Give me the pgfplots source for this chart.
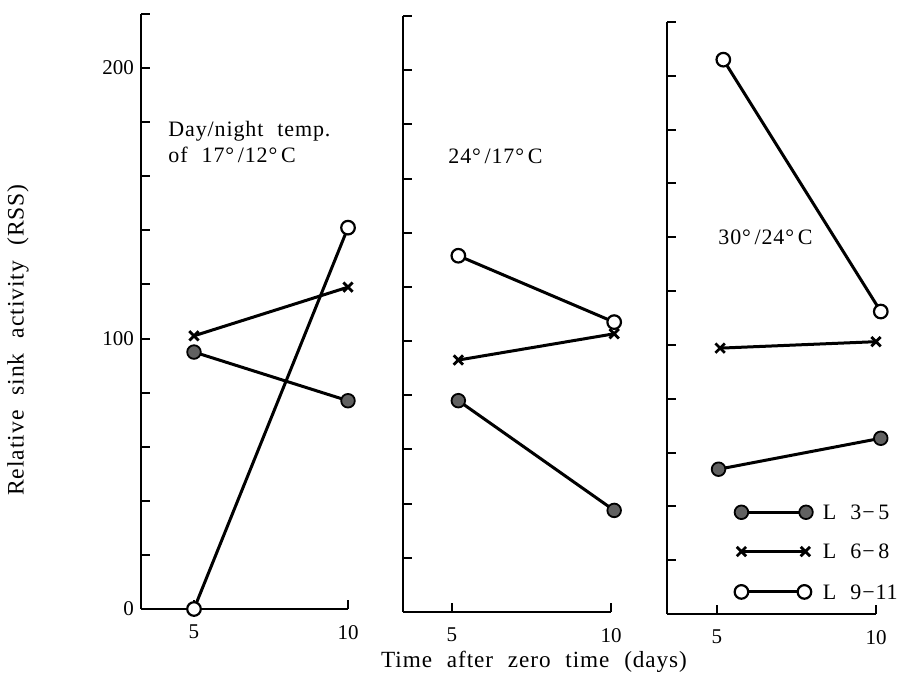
\documentclass[border=0pt]{standalone}
\usepackage{fontspec}
\setmainfont{Liberation Serif}
\newfontfamily\spc{Liberation Serif}[LetterSpace=4,WordSpace=2.2]
\usepackage{pgfplots}
\pgfplotsset{compat=1.18}

% one panel per temperature regime, positions in px/2 = pt
\pgfplotsset{
  panel/.style={
    scale only axis,
    anchor=south west,
    axis lines=left,
    axis line style={-, line width=1pt},
    ymin=0, ymax=220, xmax=10,
    ytick={0,20,...,220},
    xtick={5,10},
    yticklabels={},
    tick align=inside,
    major tick length=4.5pt,
    tick style={line width=1pt, black},
    ticklabel style={font=\fontsize{10.5}{12}\selectfont},
    xticklabel style={yshift=-4.5pt},
    /pgf/number format/assume math mode=true,
    clip=false,
  },
  ser/.style={line width=1.5pt, black},
  filled/.style={ser, mark=*, mark size=3.4pt,
    mark options={fill=black!62, draw=black, line width=0.9pt}},
  cross/.style={ser, mark=x, mark size=3.3pt, mark options={line width=1.4pt}},
  open/.style={ser, mark=*, mark size=3.4pt,
    mark options={fill=white, draw=black, line width=1.1pt}},
}

\begin{document}
\begin{tikzpicture}[x=1pt,y=1pt]

% 17/12
\begin{axis}[panel, at={(70.5pt,34.5pt)}, width=103.5pt, height=297.5pt,
    xmin=3.28,
    yticklabels={0,{},{},{},{},100,{},{},{},{},200,{}}]
  \addplot[filled] coordinates {(5,95) (10,77)};
  \addplot[cross] coordinates {(5,101) (10,119)};
  \addplot[open] coordinates {(5,0) (10,141)};
\end{axis}

% 24/17
\begin{axis}[panel, at={(201.5pt,33pt)}, width=104pt, height=298pt,
    xmin=3.46]
  \addplot[open] coordinates {(5.2,131.5) (10.1,107)};
  \addplot[cross] coordinates {(5.2,93) (10.1,102.7)};
  \addplot[filled] coordinates {(5.2,78) (10.1,37.5)};
\end{axis}

% 30/24
\begin{axis}[panel, at={(333.5pt,32pt)}, width=104.5pt, height=296pt,
    xmin=3.43]
  \addplot[open] coordinates {(5.2,206) (10.15,112.4)};
  \addplot[cross] coordinates {(5.1,98.8) (10,101.2)};
  \addplot[filled] coordinates {(5.05,53.8) (10.15,65.3)};
  % key
  \addplot[filled] coordinates {(5.77,37.8) (7.8,37.8)};
  \addplot[cross] coordinates {(5.77,23.2) (7.78,23.2)};
  \addplot[open] coordinates {(5.77,8.2) (7.75,8.2)};
  \node[anchor=west, inner sep=0pt, font=\spc\fontsize{11}{12}\selectfont]
    at (axis cs:8.32,37.8) {L 3−\,5};
  \node[anchor=west, inner sep=0pt, font=\spc\fontsize{11}{12}\selectfont]
    at (axis cs:8.32,23.2) {L 6−\,8};
  \node[anchor=west, inner sep=0pt, font=\spc\fontsize{11}{12}\selectfont]
    at (axis cs:8.32,8.2) {L 9−11};
\end{axis}

\begin{scope}[every node/.style={inner sep=0pt, font=\spc\fontsize{11}{12}\selectfont}]
  \node[anchor=base west] at (84pt,270.5pt) {Day/night temp.};
  \node[anchor=base west] at (84pt,257.5pt) {of 17°\,/12°\,C};
  \node[anchor=base west] at (224pt,257pt) {24°\,/17°\,C};
  \node[anchor=base west] at (359pt,216.5pt) {30°\,/24°\,C};
  \node[rotate=90, font=\spc\fontsize{11.8}{13}\selectfont] at (9pt,169pt)
    {Relative sink activity (RSS)};
  \node[font=\spc\fontsize{11.6}{13}\selectfont] at (267pt,8pt)
    {Time after zero time (days)};
\end{scope}

\pgfresetboundingbox
\useasboundingbox (0,0) rectangle (450pt,339pt);
\end{tikzpicture}
\end{document}
